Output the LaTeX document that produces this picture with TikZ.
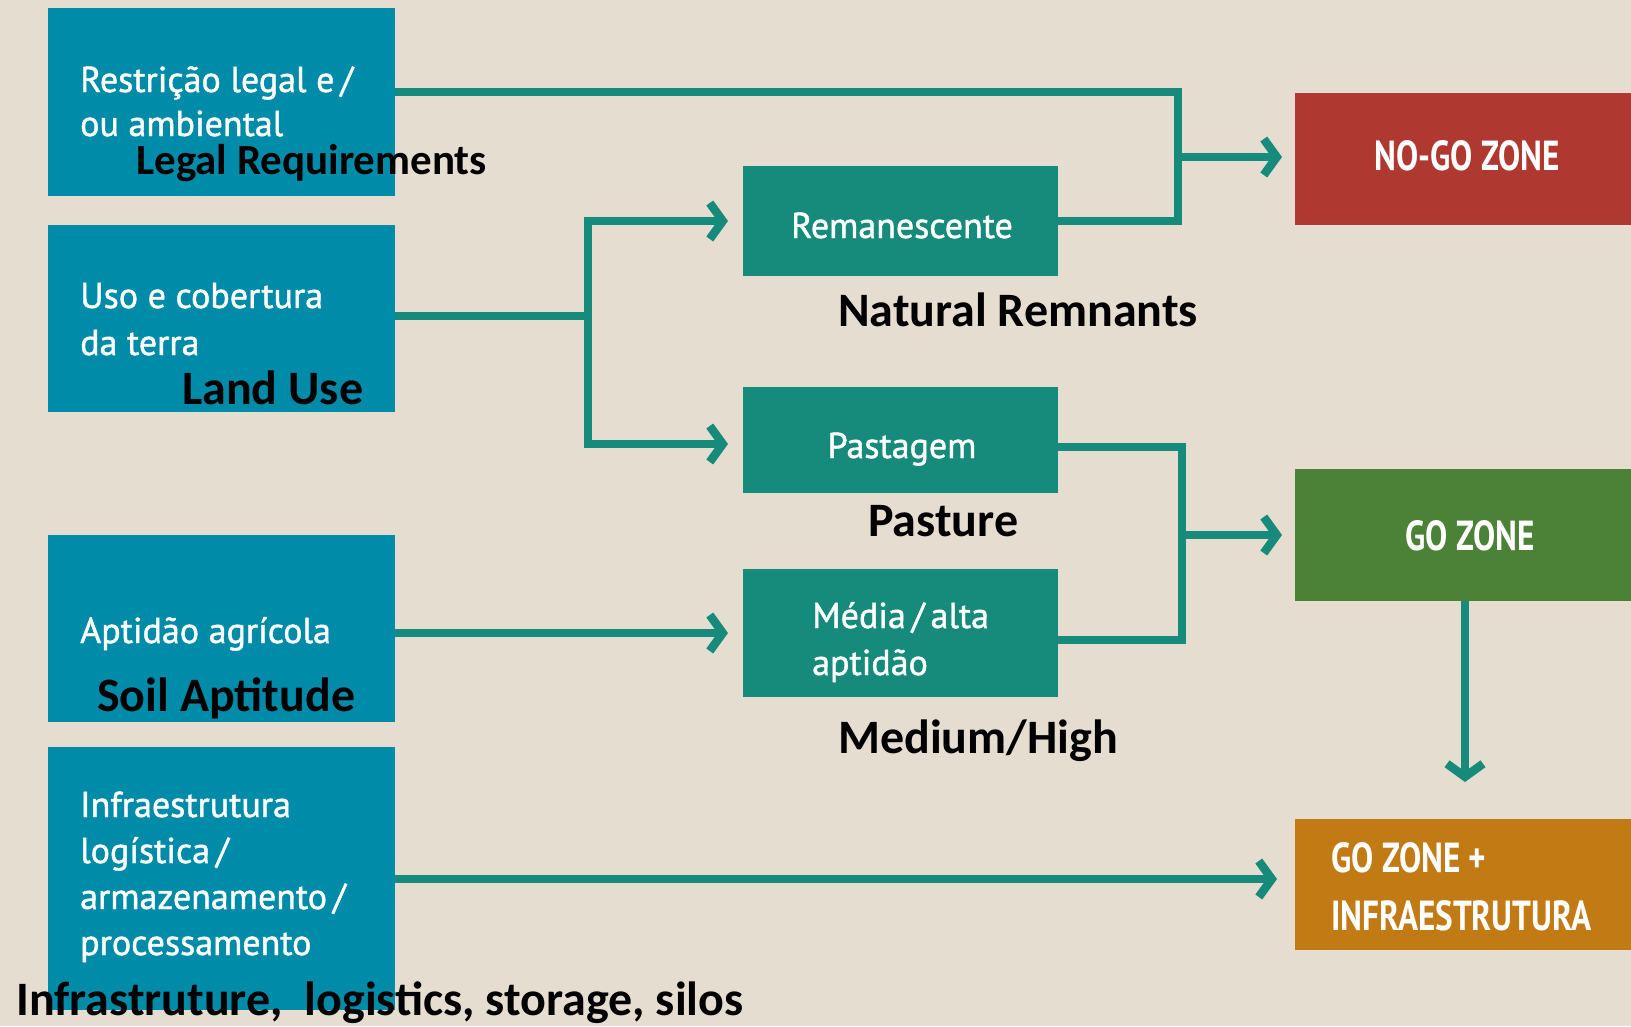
\documentclass[tikz,border=0pt]{standalone}
\usepackage{fontspec}
\setmainfont{PT Sans}
\newfontfamily\boxfont[FakeBold=1.2]{PT Sans}
\newfontfamily\zonefont[FakeStretch=0.79]{PT Sans}
\newfontfamily\labfont{Carlito}
\usetikzlibrary{arrows.meta}
\definecolor{bgc}{HTML}{E5DDD0}
\definecolor{blueb}{HTML}{008BA9}
\definecolor{tealb}{HTML}{178B7B}
\definecolor{redb}{HTML}{AF3830}
\definecolor{greenb}{HTML}{4C8238}
\definecolor{orangeb}{HTML}{C27A15}
\tikzset{
  box/.style={draw=none, inner sep=0pt, outer sep=0pt},
  wtext/.style={text=white, inner sep=0pt, anchor=base west, font=\boxfont\fontsize{36}{43}\selectfont},
  wtextc/.style={text=white, inner sep=0pt, anchor=base, font=\boxfont\fontsize{36}{43}\selectfont},
  ztext/.style={text=white, inner sep=0pt, font=\zonefont\bfseries\fontsize{42}{50}\selectfont},
  lab/.style={text=black, inner sep=0pt, anchor=base west, font=\labfont\bfseries\fontsize{48}{56}\selectfont},
  conn/.style={draw=tealb, line width=8.5pt, line join=miter},
  arr/.style={conn, -{Straight Barb[length=13pt,width=36pt]}}
}
\begin{document}
\begin{tikzpicture}[x=1pt,y=-1pt]
\useasboundingbox (0,0) rectangle (1631,1026);
\clip (0,0) rectangle (1631,1026);
\fill[bgc] (0,0) rectangle (1631,1026);
% left boxes
\node[box, fill=blueb, minimum width=347pt, minimum height=188pt] (b1) at (221.5,102) {};
\node[box, fill=blueb, minimum width=347pt, minimum height=187pt] (b2) at (221.5,318.5) {};
\node[box, fill=blueb, minimum width=347pt, minimum height=187pt] (b3) at (221.5,628.5) {};
\node[box, fill=blueb, minimum width=347pt, minimum height=263pt] (b4) at (221.5,878.5) {};
% middle boxes
\node[box, fill=tealb, minimum width=315pt, minimum height=110pt] (rem) at (900.5,221) {};
\node[box, fill=tealb, minimum width=315pt, minimum height=106pt] (past) at (900.5,440) {};
\node[box, fill=tealb, minimum width=315pt, minimum height=128pt] (med) at (900.5,633) {};
% right boxes
\node[box, fill=redb, minimum width=340pt, minimum height=132pt] (nogo) at (1465,159) {};
\node[box, fill=greenb, minimum width=340pt, minimum height=132pt] (go) at (1465,535) {};
\node[box, fill=orangeb, minimum width=340pt, minimum height=131pt] (goi) at (1465,884.5) {};
% connectors
\coordinate (jA) at (1178,92);
\coordinate (jN) at (1178,157);
\coordinate (jL) at (588,316);
\coordinate (jG) at (1182,535);
\draw[conn] (b1.east |- jA) -- (jA) |- (rem.east);
\draw[arr, shorten >=13pt] (jN) -- (nogo.west |- jN);
\draw[conn] (b2.east |- jL) -- (jL);
\draw[arr, shorten >=15pt] (jL) |- (rem.west);
\draw[arr, shorten >=15pt] (jL) |- ([yshift=-4pt]past.west);
\draw[arr, shorten >=15pt] (b3.east |- med.west) -- (med.west);
\draw[conn] ([yshift=-7pt]past.east) -| (jG) |- ([yshift=-7pt]med.east);
\draw[arr, shorten >=13pt] (jG) -- (go.west);
\draw[arr, shorten >=37pt] (go.south) -- (go.south |- goi.north);
\draw[arr, shorten >=18pt] (b4.east |- 0,879) -- (goi.west |- 0,879);
% white texts
\node[wtext] (t1a) at (80,92) {Restrição legal e\,/};
\node[wtext] (t1b) at (80,136) {ou ambiental};
\node[wtext] (t2a) at (80,308) {Uso e cobertura};
\node[wtext] (t2b) at (80,355) {da terra};
\node[wtext] (t3a) at (80,643) {Aptidão agrícola};
\node[wtext] (t4a) at (80,817) {Infraestrutura};
\node[wtext] (t4b) at (80,863) {logística\,/};
\node[wtext] (t4c) at (80,909) {armazenamento\,/};
\node[wtext] (t4d) at (80,955) {processamento};
\node[wtextc] (tr) at (902,238) {Remanescente};
\node[wtextc] (tp) at (902,458) {Pastagem};
\node[wtext] (tm1) at (812,628) {Média\,/\,alta};
\node[wtext] (tm2) at (812,675) {aptidão};
\node[ztext, anchor=base] (zn) at (1467,170) {NO-GO ZONE};
\node[ztext, anchor=base] (zg) at (1470,550) {GO ZONE};
\node[ztext, anchor=base west] (zi1) at (1331,872) {GO ZONE +};
\node[ztext, anchor=base west] (zi2) at (1331,930) {INFRAESTRUTURA};
% black labels
\node[lab, font=\labfont\bfseries\fontsize{43}{50}\selectfont] (l1) at (136,174) {Legal Requirements};
\node[lab] (l2) at (838,326) {Natural Remnants};
\node[lab] (l3) at (182,404) {Land Use};
\node[lab] (l4) at (868,536) {Pasture};
\node[lab] (l5) at (97,711) {Soil Aptitude};
\node[lab] (l6) at (838,753) {Medium/High};
\node[lab] (l7) at (16,1015) {Infrastruture,\ \ logistics, storage, silos};
\end{tikzpicture}
\end{document}
